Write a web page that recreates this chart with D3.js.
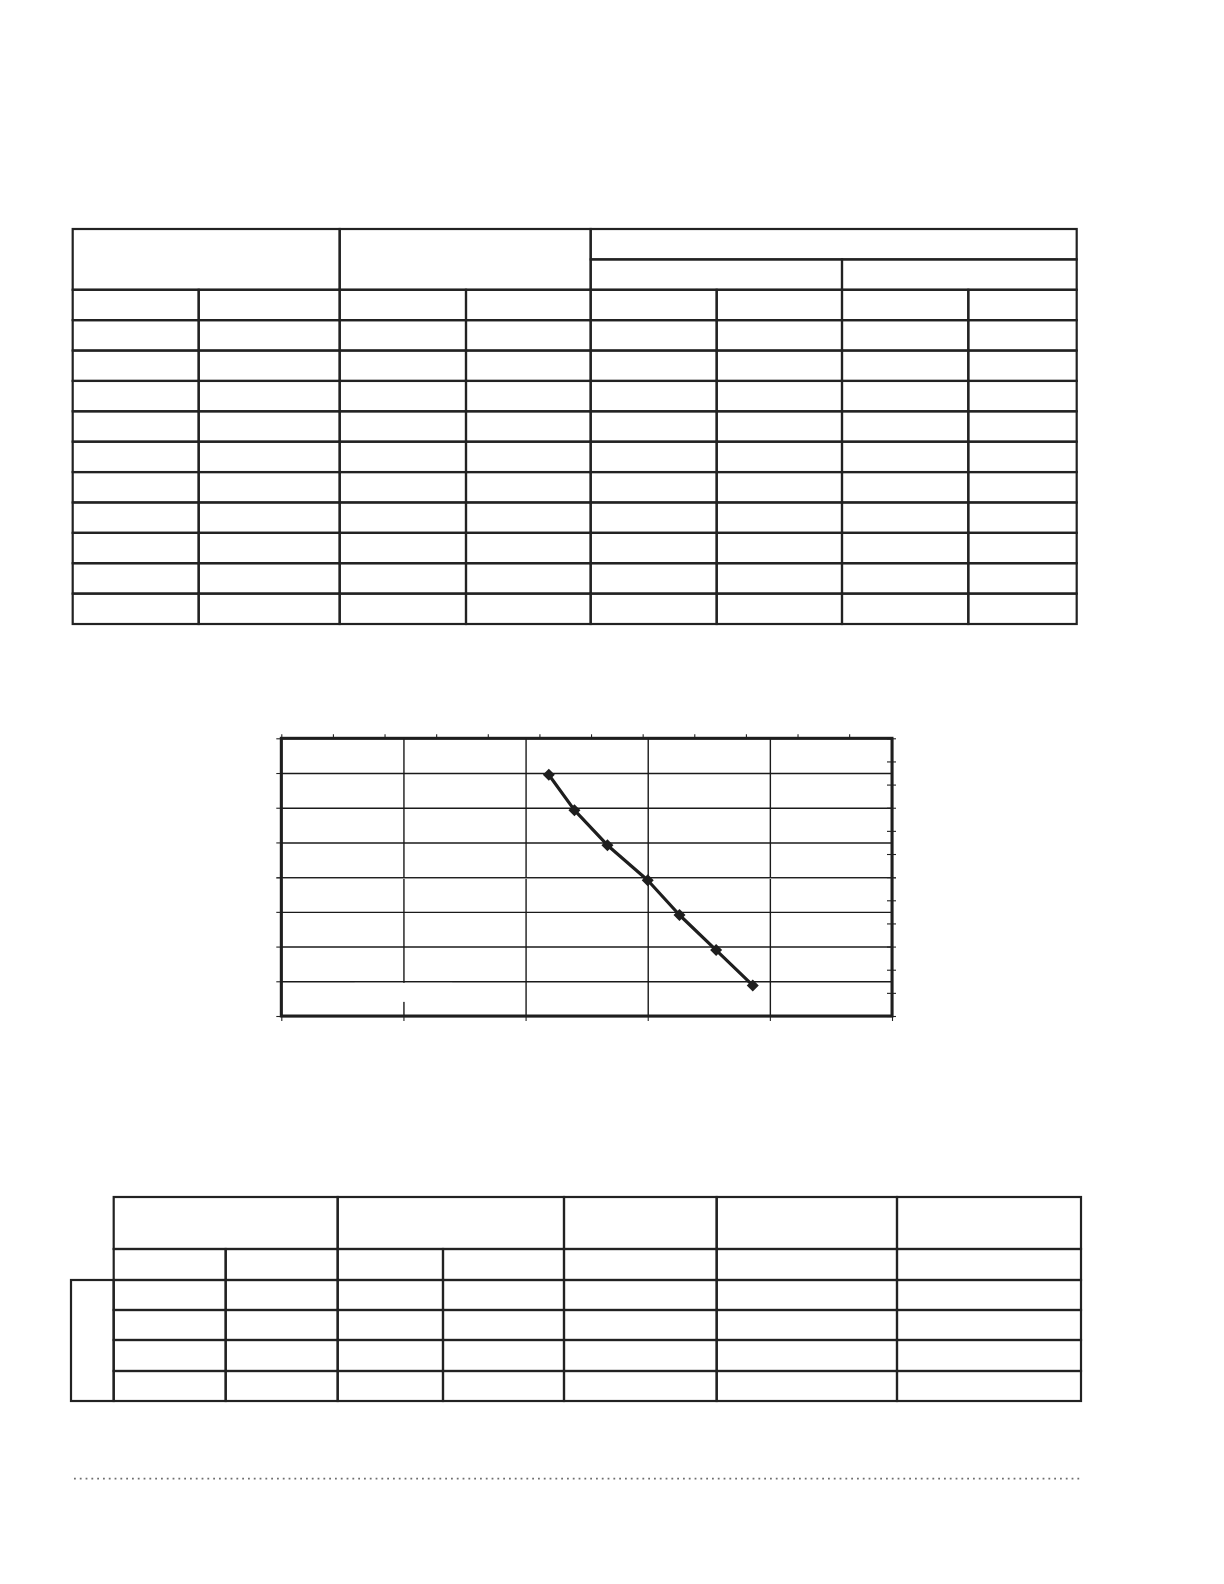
<!DOCTYPE html>
<html lang="en">
<head>
    <meta charset="UTF-8">
    <title>Chart</title>
    <style>
        html, body {
            margin: 0;
            padding: 0;
            background: #FFF
        }
        svg {
            display: block;
            margin: 0
        }
        svg .cell {
            fill: none;
            stroke: #222;
            stroke-width: 2.2px
        }
        svg .grid line {
            stroke: #1a1a1a;
            stroke-width: 1.4px
        }
        svg .grid path,
        svg .axis path {
            display: none
        }
        svg .axis line {
            stroke: #222;
            stroke-width: 1.1px
        }
        svg .frame {
            fill: none;
            stroke: #1e1e1e;
            stroke-width: 3px
        }
        svg .zero {
            stroke: #999;
            stroke-width: 1px
        }
        svg .series {
            fill: none;
            stroke: #1e1e1e;
            stroke-width: 3.2px;
            stroke-linejoin: round
        }
        svg .marker {
            fill: #1e1e1e
        }
        svg .legend {
            fill: #FFF
        }
        svg .dots {
            stroke: #6e6e6e;
            stroke-width: 1.8px;
            stroke-dasharray: 1.8 4
        }
    </style>
</head>
<body>

<div id="page"></div>

<script src="https://cdnjs.cloudflare.com/ajax/libs/d3/7.8.5/d3.min.js"></script>
<script>
  // series values (x, y)
  var xValues = [2.19, 2.40, 2.67, 3.00, 3.26, 3.56, 3.86];
  var yValues = [2.95, 1.93, 0.92, -0.09, -1.09, -2.10, -3.12];

  // axis ticks (no labels are printed)
  var xTicks = [0, 1, 2, 3, 4, 5];
  var yTicks = [-4, -3, -2, -1, 0, 1, 2, 3, 4];
  var topTicks = [0, 1, 2, 3, 4, 5, 6, 7, 8, 9, 10, 11];
  var rightTicks = [0, 1, 2, 3, 4, 5, 6, 7, 8, 9, 10, 11, 12];

  // empty tables: each cell is [row, col, rowSpan, colSpan]
  var table1Cells = [
    [0, 0, 2, 2], [0, 2, 2, 2], [0, 4, 1, 4], [1, 4, 1, 2], [1, 6, 1, 2]
  ];
  for (var r = 2; r < 13; r++) {
    for (var c = 0; c < 8; c++) table1Cells.push([r, c, 1, 1]);
  }
  var table2Cells = [
    [0, 0, 1, 2], [0, 2, 1, 2], [0, 4, 1, 1], [0, 5, 1, 1], [0, 6, 1, 1]
  ];
  for (var r = 1; r < 6; r++) {
    for (var c = 0; c < 7; c++) table2Cells.push([r, c, 1, 1]);
  }

  var width = 1224,
    height = 1584;

  var svg = d3.select('#page').append('svg')
    .attr('width', width)
    .attr('height', height);

  // ---- tables ----
  var drawTable = function(cells, cols, rows) {
    var g = svg.append('g');
    g.selectAll('rect')
      .data(cells)
      .enter()
      .append('rect')
      .attr('class', 'cell')
      .attr('x', function(d) { return cols[d[1]]; })
      .attr('y', function(d) { return rows[d[0]]; })
      .attr('width', function(d) { return cols[d[1] + d[3]] - cols[d[1]]; })
      .attr('height', function(d) { return rows[d[0] + d[2]] - rows[d[0]]; });
    return g;
  };

  var t1Cols = [72.7, 198.7, 339.7, 466, 590.7, 716.7, 842, 968.3, 1076.7],
    t1Rows = d3.range(14).map(function(i) { return 229 + i * (624 - 229) / 13; });
  drawTable(table1Cells, t1Cols, t1Rows);

  var t2Cols = [113.7, 225.7, 337.7, 443, 564, 716.7, 897, 1081],
    t2Rows = [1197, 1249, 1280, 1310, 1340, 1371, 1401];
  var t2 = drawTable(table2Cells, t2Cols, t2Rows);
  t2.append('rect')
    .attr('class', 'cell')
    .attr('x', 71)
    .attr('y', t2Rows[2])
    .attr('width', t2Cols[0] - 71)
    .attr('height', t2Rows[6] - t2Rows[2]);

  // ---- chart ----
  var plot = {left: 281.3, top: 738.3, right: 892, bottom: 1016},
    innerWidth = plot.right - plot.left,
    innerHeight = plot.bottom - plot.top;

  var canvas = svg.append('g')
    .attr('transform', 'translate(' + plot.left + ',' + plot.top + ')');

  var x = d3.scaleLinear().domain([0, 5]).range([0, innerWidth]),
    y = d3.scaleLinear().domain([-4, 4]).range([innerHeight, 0]),
    xTop = d3.scaleLinear().domain([0, 11.83]).range([0, innerWidth]),
    yRight = d3.scaleLinear().domain([0, 12]).range([innerHeight, 0]);

  canvas.append('g')
    .attr('class', 'grid')
    .call(d3.axisLeft(y).tickValues(yTicks).tickSize(-innerWidth).tickFormat(''));

  canvas.append('g')
    .attr('class', 'grid')
    .attr('transform', 'translate(0,' + innerHeight + ')')
    .call(d3.axisBottom(x).tickValues(xTicks).tickSize(innerHeight).tickFormat(''))
    .selectAll('line')
    .attr('y2', -innerHeight);

  // grey zero line just under the y = 0 gridline
  canvas.append('line')
    .attr('class', 'zero')
    .attr('x1', -5)
    .attr('x2', innerWidth + 4)
    .attr('y1', y(0) + 1.3)
    .attr('y2', y(0) + 1.3);

  // blank legend box that hides part of a gridline
  canvas.append('rect')
    .attr('class', 'legend')
    .attr('x', x(0.6))
    .attr('y', y(-3) + 1.6)
    .attr('width', x(1.4) - x(0.6))
    .attr('height', 19);

  canvas.append('g')
    .attr('class', 'axis')
    .call(d3.axisLeft(y).tickValues(yTicks).tickSize(5).tickFormat(''));

  canvas.append('g')
    .attr('class', 'axis')
    .attr('transform', 'translate(0,' + innerHeight + ')')
    .call(d3.axisBottom(x).tickValues(xTicks).tickSize(5).tickFormat(''));

  canvas.append('g')
    .attr('class', 'axis')
    .call(d3.axisTop(xTop).tickValues(topTicks).tickSize(4).tickFormat(''));

  canvas.append('g')
    .attr('class', 'axis')
    .attr('transform', 'translate(' + (innerWidth - 5) + ',0)')
    .call(d3.axisRight(yRight).tickValues(rightTicks).tickSize(9).tickFormat(''));

  canvas.append('rect')
    .attr('class', 'frame')
    .attr('width', innerWidth)
    .attr('height', innerHeight);

  var points = xValues.map(function(v, i) { return {x: v, y: yValues[i]}; });

  canvas.append('path')
    .datum(points)
    .attr('class', 'series')
    .attr('d', d3.line()
      .x(function(d) { return x(d.x); })
      .y(function(d) { return y(d.y); }));

  canvas.selectAll('.marker')
    .data(points)
    .enter()
    .append('path')
    .attr('class', 'marker')
    .attr('d', d3.symbol().type(d3.symbolSquare).size(72))
    .attr('transform', function(d) {
      return 'translate(' + x(d.x) + ',' + y(d.y) + ') rotate(45)';
    });

  // ---- dotted rule at the foot of the page ----
  svg.append('line')
    .attr('class', 'dots')
    .attr('x1', 74)
    .attr('x2', 1082)
    .attr('y1', 1478.7)
    .attr('y2', 1478.7);
</script>

</body>
</html>
